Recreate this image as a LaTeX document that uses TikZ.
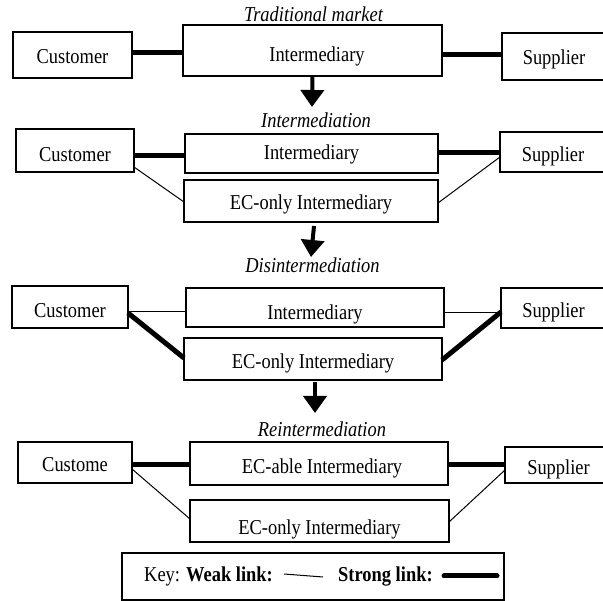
\documentclass[tikz,border=0pt]{standalone}
\usepackage{fontspec}
\setmainfont{Liberation Serif}[FakeStretch=0.87]
\usetikzlibrary{arrows.meta,calc}
\begin{document}
\begin{tikzpicture}[x=1pt,y=-1pt,
  box/.style={draw, line width=1.3pt, inner sep=0pt, outer sep=0pt, text depth=0pt,
    font=\fontsize{21.2}{24}\selectfont},
  title/.style={font=\fontsize{21.2}{24}\selectfont\itshape, inner sep=0pt, anchor=base},
  strong/.style={line width=5pt},
  weak/.style={line width=1pt},
  flow/.style={line width=4pt, -{Triangle[width=23pt,length=17pt]}},
]
\useasboundingbox (0,0) rectangle (603,601);

% ---- Traditional market
\node[title] (t1) at (313.5,21.5) {Traditional market};
\node[box, minimum width=119pt, minimum height=46pt, text height=18pt] (c1) at (72.5,55) {Customer};
\node[box, minimum width=259pt, minimum height=51pt, text height=23pt] (i1) at (312.5,50.5) {\hspace*{9pt}Intermediary};
\node[box, minimum width=104pt, minimum height=47pt, text height=17pt] (s1) at (554,56.5) {Supplier};
\draw[strong] ($(c1.east)+(0,-2)$) -- ($(i1.west)+(0,2.5)$);
\draw[strong] ($(i1.east)+(0,4.5)$) -- ($(s1.west)+(0,-1.5)$);
\coordinate (a1) at (312,107);
\draw[flow] (i1.south) -- (a1);

% ---- Intermediation
\node[title] (t2) at (316,128) {Intermediation};
\node[box, minimum width=118pt, minimum height=43pt, text height=23pt] (c2) at (75,150.5) {Customer};
\node[box, minimum width=253pt, minimum height=39pt, text height=13pt] (i2) at (311.5,153.5) {Intermediary};
\node[box, minimum width=106pt, minimum height=40pt, text height=20pt] (s2) at (553,152) {Supplier};
\node[box, minimum width=254pt, minimum height=42pt, text height=18pt] (e2) at (311,201) {EC-only Intermediary};
\draw[strong] ($(c2.east)+(0,5.5)$) -- ($(i2.west)+(0,2.5)$);
\draw[strong] ($(i2.east)+(0,-0.5)$) -- ($(s2.west)+(0,1)$);
\draw[weak] ($(c2.east)+(0,16.5)$) -- ($(e2.west)+(0,1)$);
\draw[weak] ($(e2.east)+(0,2)$) -- ($(s2.west)+(0,5)$);
\coordinate (a2s) at (314,226);
\coordinate (a2) at (311,257);
\draw[flow] (a2s) -- (a2);

% ---- Disintermediation
\node[title] (t3) at (312.5,273) {Disintermediation};
\node[box, minimum width=116pt, minimum height=42pt, text height=22pt] (c3) at (70,307) {Customer};
\node[box, minimum width=258pt, minimum height=39pt, text height=25pt] (i3) at (315,307.5) {Intermediary};
\node[box, minimum width=105pt, minimum height=40pt, text height=20pt] (s3) at (553.5,308) {Supplier};
\node[box, minimum width=258pt, minimum height=42pt, text height=20pt] (e3) at (313,359) {EC-only Intermediary};
\draw[weak] ($(c3.east)+(0,5)$) -- ($(i3.west)+(0,4.5)$);
\draw[weak] ($(i3.east)+(0,5.5)$) -- ($(s3.west)+(0,5)$);
\draw[strong] ($(c3.east)+(0,6)$) -- ($(e3.west)+(0,-1)$);
\draw[strong] ($(e3.east)+(0,1)$) -- ($(s3.west)+(0,4)$);
\coordinate (a3) at (315,413);
\draw[flow] ($(e3.south)+(2,2)$) -- (a3);

% ---- Reintermediation
\node[title] (t4) at (322,437) {Reintermediation};
\node[box, minimum width=114pt, minimum height=41pt, text height=19pt] (c4) at (75,462.5) {Custome};
\node[box, minimum width=258pt, minimum height=43pt, text height=21pt] (i4) at (319,463.5) {\hspace*{6pt}EC-able Intermediary};
\node[box, minimum width=101pt, minimum height=36pt, text height=20pt] (s4) at (555.5,465) {\hspace*{6pt}Supplier};
\node[box, minimum width=259pt, minimum height=42pt, text height=28pt] (e4) at (319.5,521) {EC-only Intermediary};
\draw[strong] ($(c4.east)+(0,2.5)$) -- ($(i4.west)+(0,1.5)$);
\draw[strong] ($(i4.east)+(0,1.5)$) -- ($(s4.west)+(0,0)$);
\draw[weak] ($(c4.east)+(0,6.5)$) -- ($(e4.west)+(0,-2)$);
\draw[weak] ($(e4.east)+(0,1)$) -- ($(s4.west)+(0,5)$);

% ---- Key
\node[box, minimum width=382pt, minimum height=47pt] (key) at (313,576.5) {};
\node[font=\fontsize{21.2}{24}\selectfont, inner sep=0pt, anchor=base west] (k1) at (144,582) {Key: \textbf{Weak link:}};
\node[font=\fontsize{21.2}{24}\selectfont, inner sep=0pt, anchor=base west] (k2) at (338,582) {\textbf{Strong link:}};
\draw[weak] (284,574) -- (323,577);
\draw[strong, line cap=round] (444,576) -- (497,576);
\end{tikzpicture}
\end{document}
